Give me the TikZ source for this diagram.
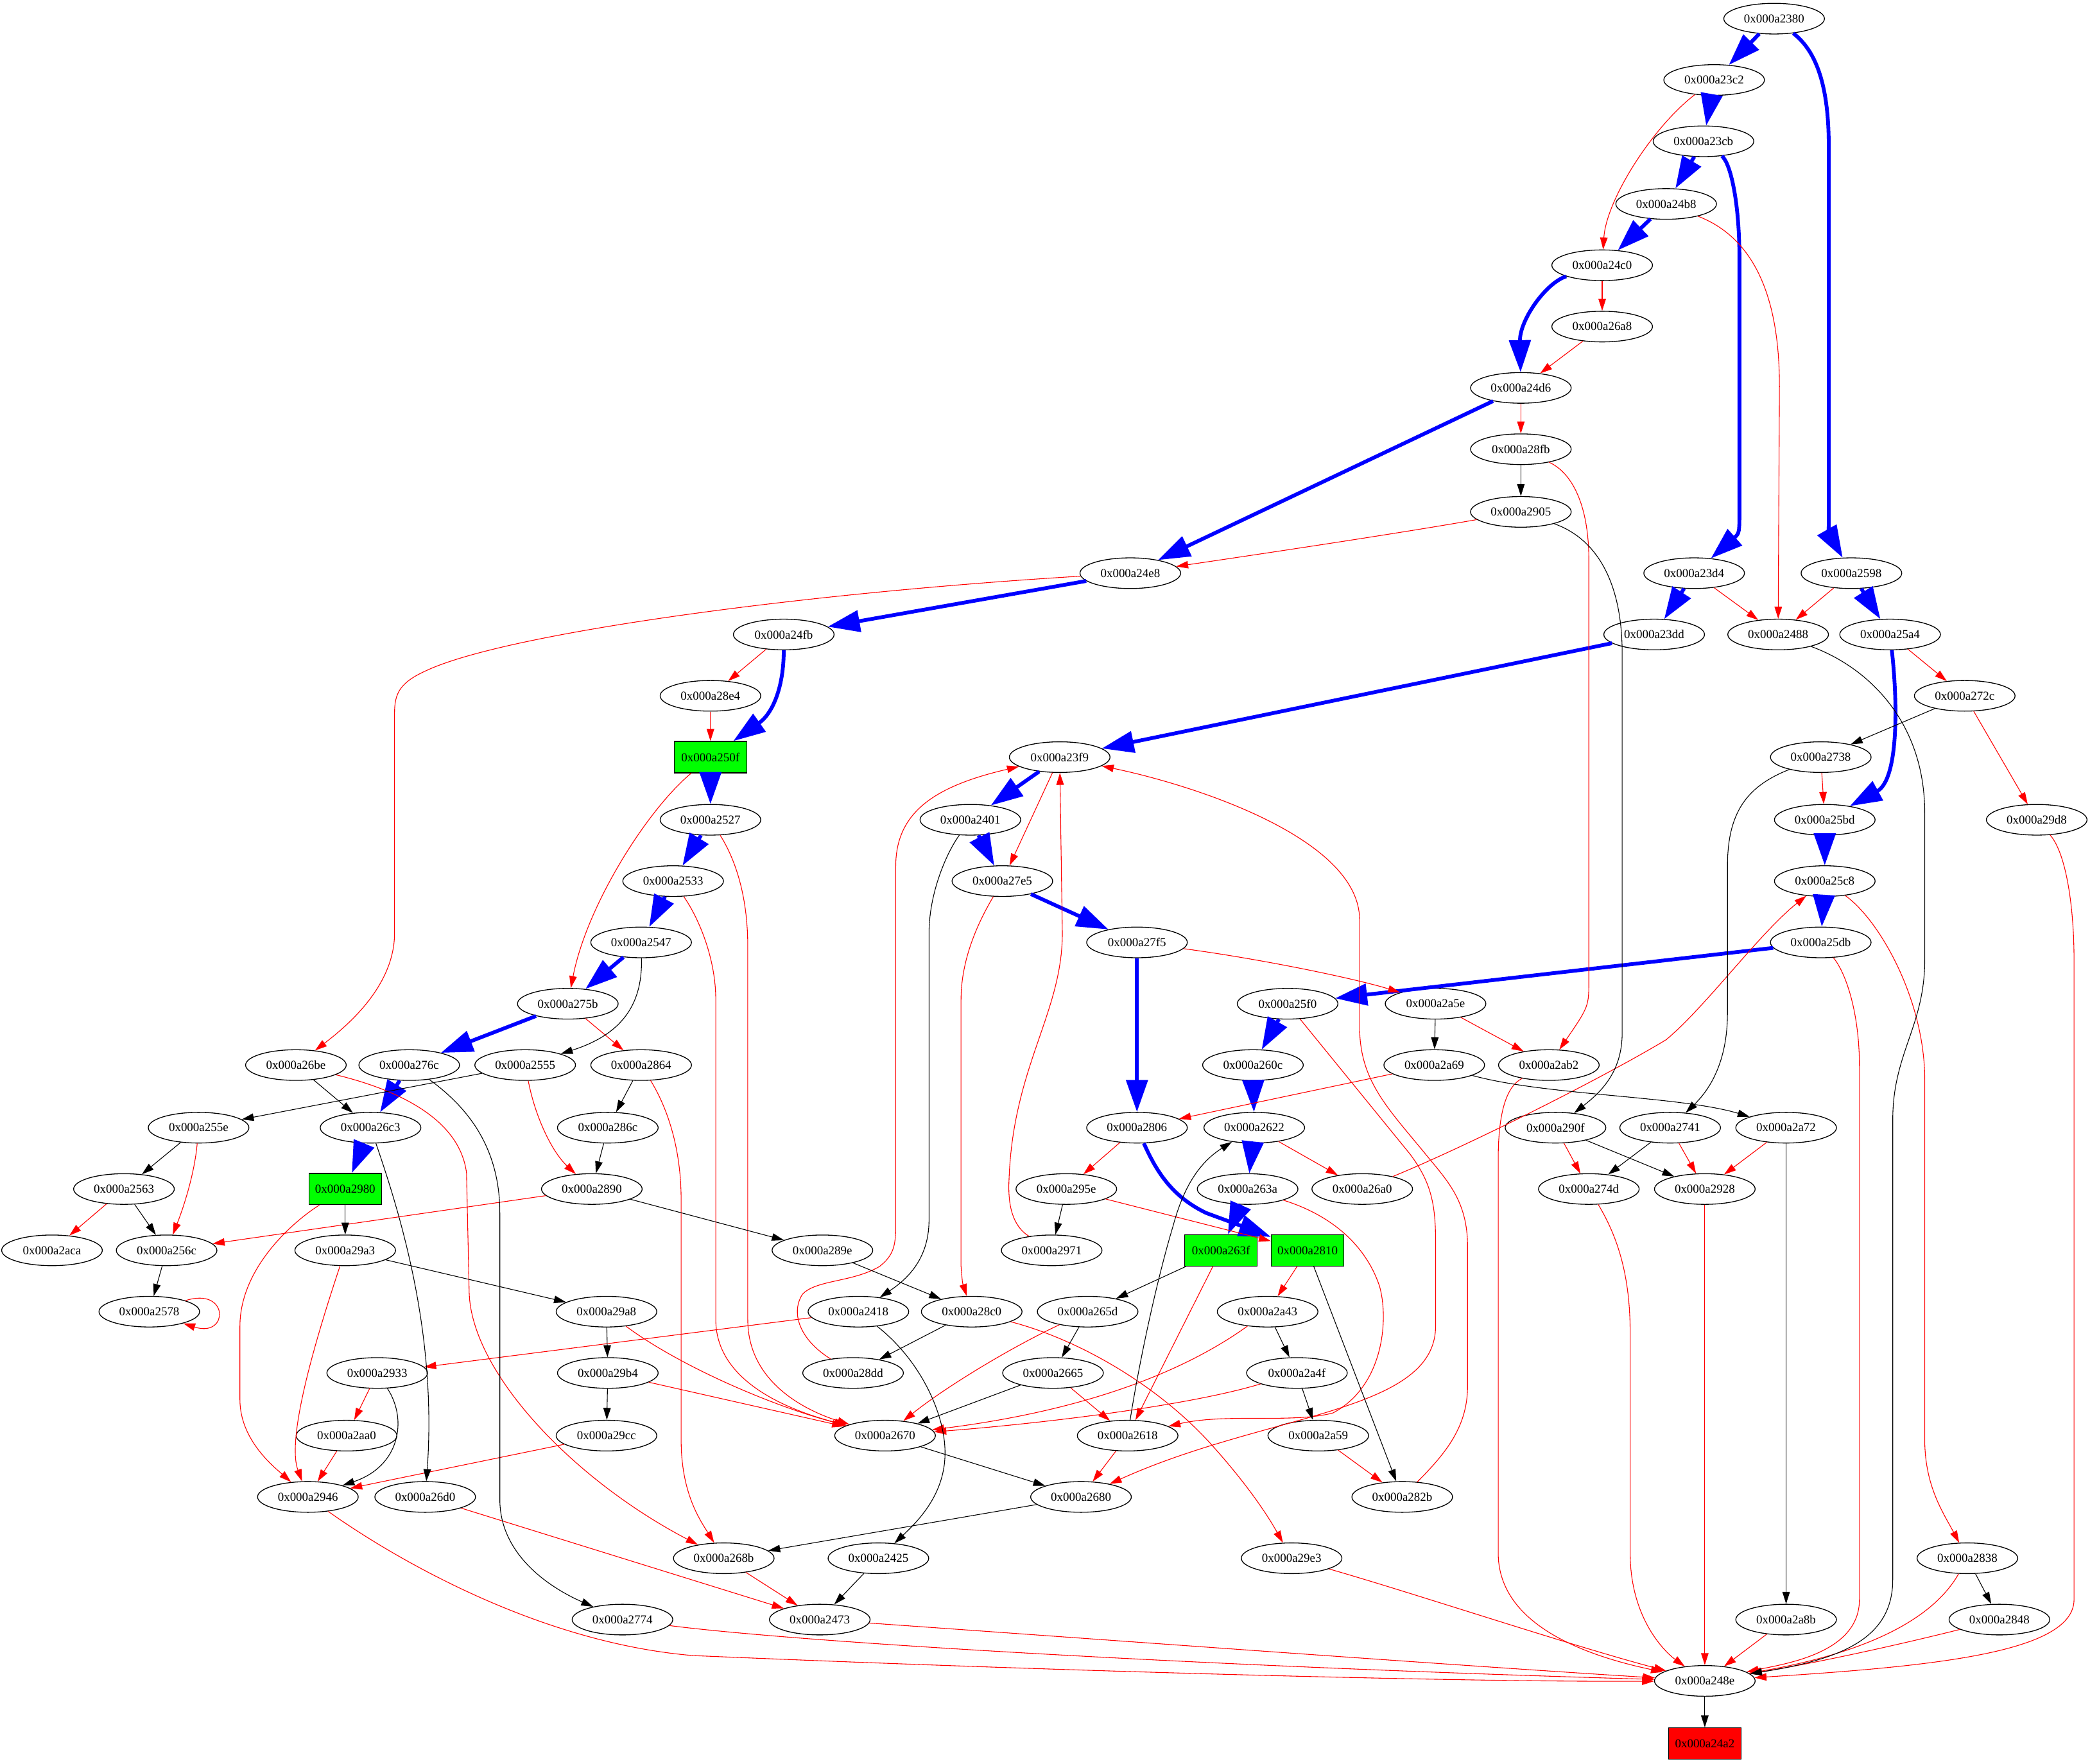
\documentclass[tikz,border=0pt]{standalone}
\usepackage{fontspec}
\setmainfont{Liberation Serif}
\usepackage{xcolor}
\usepackage{tikz}
\usetikzlibrary{shapes.geometric,arrows.meta}
\definecolor{edgeblue}{RGB}{0,0,255}
\definecolor{edgered}{RGB}{255,0,0}
\definecolor{hotgreen}{RGB}{0,255,0}
\definecolor{sinkred}{RGB}{255,0,0}

\begin{document}
\begin{tikzpicture}[x=0.05cm,y=-0.05cm,font=\fontsize{13}{15}\selectfont,
  blk/.style={draw,ellipse,line width=0.9pt,minimum width=3.775cm,minimum height=1.15cm,inner sep=0pt},
  hot/.style={draw,fill=hotgreen,line width=0.9pt,minimum width=2.725cm,minimum height=1.175cm,inner sep=0pt},
  sink/.style={hot,fill=sinkred},
  jmp/.style={-{Triangle[length=1.2cm,width=0.8cm]},line width=4pt,edgeblue},
  fall/.style={-{Triangle[length=0.45cm,width=0.28cm]},line width=0.75pt,edgered},
  seq/.style={-{Triangle[length=0.45cm,width=0.28cm]},line width=0.75pt,black}
]
  \useasboundingbox (0,0) rectangle (1568,1323);

  \node[blk] (a2380) at (1331,14) {0x000a2380};
  \node[blk] (a23c2) at (1286,60) {0x000a23c2};
  \node[blk] (a23cb) at (1278,106) {0x000a23cb};
  \node[blk] (a24b8) at (1250,153) {0x000a24b8};
  \node[blk] (a24c0) at (1202,199) {0x000a24c0};
  \node[blk] (a26a8) at (1202,245) {0x000a26a8};
  \node[blk] (a24d6) at (1141,291) {0x000a24d6};
  \node[blk] (a28fb) at (1141,337) {0x000a28fb};
  \node[blk] (a2905) at (1141,384) {0x000a2905};
  \node[blk] (a24e8) at (848,430) {0x000a24e8};
  \node[blk] (a23d4) at (1271,430) {0x000a23d4};
  \node[blk] (a2598) at (1389,430) {0x000a2598};
  \node[blk] (a24fb) at (588,476) {0x000a24fb};
  \node[blk] (a23dd) at (1241,476) {0x000a23dd};
  \node[blk] (a2488) at (1334,476) {0x000a2488};
  \node[blk] (a25a4) at (1418,476) {0x000a25a4};
  \node[blk] (a28e4) at (533,522) {0x000a28e4};
  \node[blk] (a272c) at (1474,522) {0x000a272c};
  \node[hot] (a250f) at (533,568) {0x000a250f};
  \node[blk] (a23f9) at (795,568) {0x000a23f9};
  \node[blk] (a2738) at (1366,568) {0x000a2738};
  \node[blk] (a2527) at (533,615) {0x000a2527};
  \node[blk] (a2401) at (728,615) {0x000a2401};
  \node[blk] (a25bd) at (1369,615) {0x000a25bd};
  \node[blk] (a29d8) at (1528,615) {0x000a29d8};
  \node[blk] (a2533) at (505,661) {0x000a2533};
  \node[blk] (a27e5) at (752,661) {0x000a27e5};
  \node[blk] (a25c8) at (1369,661) {0x000a25c8};
  \node[blk] (a2547) at (481,707) {0x000a2547};
  \node[blk] (a27f5) at (853,707) {0x000a27f5};
  \node[blk] (a25db) at (1366,707) {0x000a25db};
  \node[blk] (a275b) at (426,753) {0x000a275b};
  \node[blk] (a25f0) at (966,753) {0x000a25f0};
  \node[blk] (a2a5e) at (1077,753) {0x000a2a5e};
  \node[blk] (a26be) at (222,799) {0x000a26be};
  \node[blk] (a276c) at (307,799) {0x000a276c};
  \node[blk] (a2555) at (394,799) {0x000a2555};
  \node[blk] (a2864) at (481,799) {0x000a2864};
  \node[blk] (a260c) at (940,799) {0x000a260c};
  \node[blk] (a2a69) at (1076,799) {0x000a2a69};
  \node[blk] (a2ab2) at (1162,799) {0x000a2ab2};
  \node[blk] (a255e) at (149,846) {0x000a255e};
  \node[blk] (a26c3) at (278,846) {0x000a26c3};
  \node[blk] (a286c) at (456,846) {0x000a286c};
  \node[blk] (a2806) at (853,846) {0x000a2806};
  \node[blk] (a2622) at (941,846) {0x000a2622};
  \node[blk] (a290f) at (1167,846) {0x000a290f};
  \node[blk] (a2741) at (1253,846) {0x000a2741};
  \node[blk] (a2a72) at (1340,846) {0x000a2a72};
  \node[blk] (a2563) at (93,892) {0x000a2563};
  \node[hot] (a2980) at (259,892) {0x000a2980};
  \node[blk] (a2890) at (444,892) {0x000a2890};
  \node[blk] (a295e) at (800,892) {0x000a295e};
  \node[blk] (a263a) at (936,892) {0x000a263a};
  \node[blk] (a26a0) at (1022,892) {0x000a26a0};
  \node[blk] (a274d) at (1192,892) {0x000a274d};
  \node[blk] (a2928) at (1279,892) {0x000a2928};
  \node[blk] (a2aca) at (39,938) {0x000a2aca};
  \node[blk] (a256c) at (125,938) {0x000a256c};
  \node[blk] (a29a3) at (259,938) {0x000a29a3};
  \node[blk] (a289e) at (617,938) {0x000a289e};
  \node[blk] (a2971) at (789,938) {0x000a2971};
  \node[hot] (a263f) at (916,938) {0x000a263f};
  \node[hot] (a2810) at (981,938) {0x000a2810};
  \node[blk] (a2578) at (112,984) {0x000a2578};
  \node[blk] (a29a8) at (455,984) {0x000a29a8};
  \node[blk] (a2418) at (644,984) {0x000a2418};
  \node[blk] (a28c0) at (729,984) {0x000a28c0};
  \node[blk] (a265d) at (816,984) {0x000a265d};
  \node[blk] (a2a43) at (951,984) {0x000a2a43};
  \node[blk] (a2933) at (283,1030) {0x000a2933};
  \node[blk] (a29b4) at (456,1030) {0x000a29b4};
  \node[blk] (a28dd) at (640,1030) {0x000a28dd};
  \node[blk] (a2665) at (790,1030) {0x000a2665};
  \node[blk] (a2a4f) at (973,1030) {0x000a2a4f};
  \node[blk] (a2aa0) at (260,1077) {0x000a2aa0};
  \node[blk] (a29cc) at (455,1077) {0x000a29cc};
  \node[blk] (a2670) at (664,1077) {0x000a2670};
  \node[blk] (a2618) at (846,1077) {0x000a2618};
  \node[blk] (a2a59) at (989,1077) {0x000a2a59};
  \node[blk] (a2946) at (231,1123) {0x000a2946};
  \node[blk] (a26d0) at (319,1123) {0x000a26d0};
  \node[blk] (a2680) at (811,1123) {0x000a2680};
  \node[blk] (a282b) at (1052,1123) {0x000a282b};
  \node[blk] (a268b) at (543,1169) {0x000a268b};
  \node[blk] (a2425) at (659,1169) {0x000a2425};
  \node[blk] (a29e3) at (969,1169) {0x000a29e3};
  \node[blk] (a2838) at (1476,1169) {0x000a2838};
  \node[blk] (a2774) at (467,1215) {0x000a2774};
  \node[blk] (a2473) at (615,1215) {0x000a2473};
  \node[blk] (a2a8b) at (1340,1215) {0x000a2a8b};
  \node[blk] (a2848) at (1500,1215) {0x000a2848};
  \node[blk] (a248e) at (1279,1261) {0x000a248e};
  \node[sink] (a24a2) at (1279,1308) {0x000a24a2};

  \draw[jmp] (a2380) -- (a23c2);
  \draw[jmp] (a2380) .. controls (1365,40) and (1372,70) .. (1372,110) -- (1372,380) .. controls (1372,400) .. (a2598);
  \draw[jmp] (a23c2) -- (a23cb);
  \draw[jmp] (a23cb) -- (a24b8);
  \draw[jmp] (a23cb) .. controls (1298,122) and (1305,150) .. (1305,195) -- (1305,380) .. controls (1305,400) .. (a23d4);
  \draw[jmp] (a24b8) -- (a24c0);
  \draw[jmp] (a24c0) .. controls (1160,212) and (1140,240) .. (a24d6);
  \draw[jmp] (a24d6) -- (a24e8);
  \draw[jmp] (a24e8) -- (a24fb);
  \draw[jmp] (a24fb) .. controls (588,515) and (580,535) .. (a250f);
  \draw[jmp] (a250f) -- (a2527);
  \draw[jmp] (a2527) -- (a2533);
  \draw[jmp] (a2533) -- (a2547);
  \draw[jmp] (a2547) -- (a275b);
  \draw[jmp] (a275b) -- (a276c);
  \draw[jmp] (a276c) -- (a26c3);
  \draw[jmp] (a26c3) -- (a2980);
  \draw[jmp] (a23d4) -- (a23dd);
  \draw[jmp] (a23dd) -- (a23f9);
  \draw[jmp] (a23f9) -- (a2401);
  \draw[jmp] (a2401) -- (a27e5);
  \draw[jmp] (a27e5) -- (a27f5);
  \draw[jmp] (a27f5) -- (a2806);
  \draw[jmp] (a2806) .. controls (868,880) and (880,898) .. (905,910) -- (a2810);
  \draw[jmp] (a2598) -- (a25a4);
  \draw[jmp] (a25a4) .. controls (1424,530) and (1424,585) .. (a25bd);
  \draw[jmp] (a25bd) -- (a25c8);
  \draw[jmp] (a25c8) -- (a25db);
  \draw[jmp] (a25db) -- (a25f0);
  \draw[jmp] (a25f0) -- (a260c);
  \draw[jmp] (a260c) -- (a2622);
  \draw[jmp] (a2622) -- (a263a);
  \draw[jmp] (a263a) -- (a263f);

  \draw[fall] (a23c2) .. controls (1240,95) and (1205,150) .. (a24c0);
  \draw[fall] (a24b8) .. controls (1320,180) and (1335,230) .. (1335,290) -- (a2488);
  \draw[fall] (a24c0) -- (a26a8);
  \draw[fall] (a26a8) -- (a24d6);
  \draw[fall] (a24d6) -- (a28fb);
  \draw[fall] (a28fb) .. controls (1180,355) and (1192,380) .. (1192,420) -- (1192,735) .. controls (1192,755) .. (a2ab2);
  \draw[fall] (a2905) .. controls (1050,400) and (950,415) .. (a24e8);
  \draw[fall] (a24e8) .. controls (600,445) and (380,475) .. (320,503) .. controls (300,512) and (296,520) .. (296,535) -- (296,700) .. controls (296,740) and (260,770) .. (a26be);
  \draw[fall] (a24fb) -- (a28e4);
  \draw[fall] (a28e4) -- (a250f);
  \draw[fall] (a250f) .. controls (485,608) and (440,680) .. (a275b);
  \draw[fall] (a2527) .. controls (555,650) and (561,680) .. (561,710) -- (561,990) .. controls (561,1040) and (610,1060) .. (a2670);
  \draw[fall] (a2533) .. controls (525,690) and (537,720) .. (537,750) -- (537,990) .. controls (537,1040) and (600,1060) .. (a2670);
  \draw[fall] (a275b) -- (a2864);
  \draw[fall] (a2864) .. controls (500,830) and (511,860) .. (511,900) -- (511,1080) .. controls (511,1120) and (525,1140) .. (a268b);
  \draw[fall] (a2555) .. controls (402,840) and (415,865) .. (a2890);
  \draw[fall] (a255e) .. controls (146,880) and (138,905) .. (a256c);
  \draw[fall] (a2563) -- (a2aca);
  \draw[fall] (a2890) -- (a256c);
  \draw[fall] (a2578.17) .. controls (172,965) and (172,1004) .. (a2578.-19);
  \draw[fall] (a2980) .. controls (222,915) and (180,950) .. (180,995) -- (180,1050) .. controls (180,1080) and (205,1100) .. (a2946);
  \draw[fall] (a29a3) .. controls (235,1010) and (215,1080) .. (a2946);
  \draw[fall] (a2933) -- (a2aa0);
  \draw[fall] (a2aa0) -- (a2946);
  \draw[fall] (a29cc) -- (a2946);
  \draw[fall] (a29a8) .. controls (510,1025) and (580,1055) .. (a2670);
  \draw[fall] (a29b4) -- (a2670);
  \draw[fall] (a2418) -- (a2933);
  \draw[fall] (a28dd) .. controls (600,1005) and (593,985) .. (602,971) .. controls (612,960) and (640,962) .. (660,950) .. controls (670,942) and (672,935) .. (672,920) -- (672,650) .. controls (672,610) and (700,590) .. (a23f9);
  \draw[fall] (a2971) .. controls (760,920) and (756,905) .. (757,885) .. controls (760,800) and (797,760) .. (797,700) -- (a23f9);
  \draw[fall] (a282b) .. controls (1085,1090) and (1101,1070) .. (1101,1040) -- (1101,935) .. controls (1101,900) and (1085,885) .. (1068,864) .. controls (1040,830) and (1020,810) .. (1020,770) -- (1020,690) .. controls (1020,630) and (900,590) .. (a23f9);
  \draw[fall] (a23f9) -- (a27e5);
  \draw[fall] (a27e5) .. controls (738,685) and (721,715) .. (721,750) -- (721,950) .. controls (722,962) .. (a28c0);
  \draw[fall] (a27f5) .. controls (950,720) and (1020,735) .. (a2a5e);
  \draw[fall] (a2a5e) -- (a2ab2);
  \draw[fall] (a2a69) -- (a2806);
  \draw[fall] (a2806) -- (a295e);
  \draw[fall] (a295e) -- (a2810);
  \draw[fall] (a2810) -- (a2a43);
  \draw[fall] (a2622) -- (a26a0);
  \draw[fall] (a26a0) .. controls (1100,860) and (1200,810) .. (1250,780) .. controls (1280,755) and (1320,700) .. (a25c8);
  \draw[fall] (a25f0) -- (1058,866) .. controls (1072,885) and (1077,900) .. (1077,930) -- (1077,995) .. controls (1077,1060) and (950,1060) .. (a2680);
  \draw[fall] (a263a) .. controls (1000,912) and (1025,935) .. (1035,965) .. controls (1042,990) and (1038,1040) .. (1000,1060) .. controls (970,1068) and (920,1060) .. (a2618);
  \draw[fall] (a263f) -- (a2618);
  \draw[fall] (a265d) .. controls (760,1010) and (710,1040) .. (a2670);
  \draw[fall] (a2665) -- (a2618);
  \draw[fall] (a2a43) .. controls (880,1035) and (800,1060) .. (a2670);
  \draw[fall] (a2a4f) .. controls (890,1055) and (780,1068) .. (a2670);
  \draw[fall] (a2a59) -- (a282b);
  \draw[fall] (a2618) -- (a2680);
  \draw[fall] (a28c0) .. controls (810,1005) and (870,1040) .. (910,1085) .. controls (935,1113) and (950,1135) .. (a29e3);
  \draw[fall] (a26be) .. controls (300,818) and (345,840) .. (350,880) -- (352,970) .. controls (354,1030) and (430,1110) .. (a268b);
  \draw[fall] (a26d0) -- (a2473);
  \draw[fall] (a268b) -- (a2473);
  \draw[fall] (a2946) .. controls (290,1165) and (400,1232) .. (520,1242) .. controls (800,1254) and (1100,1262) .. (a248e);
  \draw[fall] (a2774) .. controls (600,1232) and (900,1250) .. (a248e);
  \draw[fall] (a2473) .. controls (800,1228) and (1100,1250) .. (a248e);
  \draw[fall] (a29e3) .. controls (1060,1195) and (1180,1235) .. (a248e);
  \draw[fall] (a2ab2) .. controls (1130,815) and (1124,835) .. (1124,870) -- (1124,1165) .. controls (1124,1215) and (1180,1240) .. (a248e);
  \draw[fall] (a25db) .. controls (1385,730) and (1395,760) .. (1395,800) -- (1395,1200) .. controls (1395,1240) and (1340,1248) .. (a248e);
  \draw[fall] (a274d) .. controls (1215,930) and (1223,960) .. (1223,1000) -- (1223,1165) .. controls (1223,1215) and (1250,1240) .. (a248e);
  \draw[fall] (a2928) -- (a248e);
  \draw[fall] (a2a8b) -- (a248e);
  \draw[fall] (a2838) .. controls (1450,1215) and (1400,1240) .. (a248e);
  \draw[fall] (a2848) .. controls (1420,1235) and (1360,1248) .. (a248e);
  \draw[fall] (a29d8) .. controls (1550,640) and (1556,680) .. (1556,720) -- (1556,1200) .. controls (1556,1240) and (1450,1250) .. (a248e);
  \draw[fall] (a2738) -- (a25bd);
  \draw[fall] (a25a4) -- (a272c);
  \draw[fall] (a272c) -- (a29d8);
  \draw[fall] (a2598) -- (a2488);
  \draw[fall] (a23d4) -- (a2488);
  \draw[fall] (a25c8) .. controls (1410,690) and (1444,750) .. (1444,810) -- (1444,1080) .. controls (1444,1115) and (1458,1135) .. (a2838);
  \draw[fall] (a290f) -- (a274d);
  \draw[fall] (a2741) -- (a2928);
  \draw[fall] (a2a72) -- (a2928);

  \draw[seq] (a28fb) -- (a2905);
  \draw[seq] (a2905) .. controls (1200,405) and (1217,440) .. (1217,490) -- (1217,775) .. controls (1217,805) and (1200,820) .. (a290f);
  \draw[seq] (a2488) .. controls (1400,500) and (1444,540) .. (1444,610) -- (1444,720) .. controls (1444,770) and (1420,790) .. (1420,840) -- (1420,1185) .. controls (1420,1230) and (1380,1245) .. (a248e);
  \draw[seq] (a272c) -- (a2738);
  \draw[seq] (a2738) .. controls (1310,590) and (1296,610) .. (1296,650) -- (1296,760) .. controls (1296,800) and (1280,820) .. (a2741);
  \draw[seq] (a2a72) -- (a2a8b);
  \draw[seq] (a2a5e) -- (a2a69);
  \draw[seq] (a2a69) .. controls (1160,822) and (1260,822) .. (a2a72);
  \draw[seq] (a290f) -- (a2928);
  \draw[seq] (a2741) -- (a274d);
  \draw[seq] (a2547) .. controls (482,750) and (470,775) .. (a2555);
  \draw[seq] (a2555) -- (a255e);
  \draw[seq] (a26be) -- (a26c3);
  \draw[seq] (a255e) -- (a2563);
  \draw[seq] (a2563) -- (a256c);
  \draw[seq] (a256c) -- (a2578);
  \draw[seq] (a276c) .. controls (350,830) and (375,860) .. (375,910) -- (375,1125) .. controls (375,1165) and (410,1190) .. (a2774);
  \draw[seq] (a26c3) .. controls (300,910) and (328,1000) .. (a26d0);
  \draw[seq] (a2864) -- (a286c);
  \draw[seq] (a286c) -- (a2890);
  \draw[seq] (a2890) -- (a289e);
  \draw[seq] (a289e) -- (a28c0);
  \draw[seq] (a2980) -- (a29a3);
  \draw[seq] (a29a3) -- (a29a8);
  \draw[seq] (a29a8) -- (a29b4);
  \draw[seq] (a29b4) -- (a29cc);
  \draw[seq] (a2933) .. controls (306,1065) and (300,1100) .. (a2946);
  \draw[seq] (a2401) .. controls (710,640) and (697,670) .. (697,700) -- (697,915) .. controls (697,945) and (680,960) .. (a2418);
  \draw[seq] (a2418) .. controls (690,1020) and (709,1060) .. (709,1090) .. controls (709,1120) and (690,1140) .. (a2425);
  \draw[seq] (a28c0) -- (a28dd);
  \draw[seq] (a2425) -- (a2473);
  \draw[seq] (a295e) -- (a2971);
  \draw[seq] (a263f) -- (a265d);
  \draw[seq] (a265d) -- (a2665);
  \draw[seq] (a2665) -- (a2670);
  \draw[seq] (a2670) -- (a2680);
  \draw[seq] (a2618) .. controls (855,1020) and (868,960) .. (880,920) .. controls (888,890) and (900,872) .. (a2622);
  \draw[seq] (a2680) -- (a268b);
  \draw[seq] (a2a43) -- (a2a4f);
  \draw[seq] (a2a4f) -- (a2a59);
  \draw[seq] (a2810) -- (a282b);
  \draw[seq] (a248e) -- (a24a2);
  \draw[seq] (a2838) -- (a2848);
\end{tikzpicture}
\end{document}
